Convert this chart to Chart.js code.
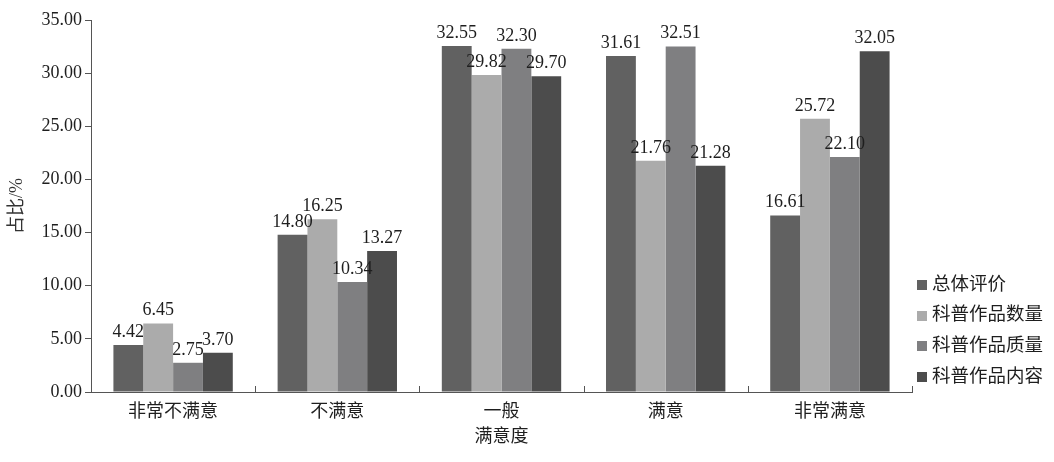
<!DOCTYPE html>
<html>
<head>
<meta charset="utf-8">
<script src="https://cdn.jsdelivr.net/npm/chart.js@4.4.0/dist/chart.umd.min.js"></script>
<style>
  html, body { margin: 0; padding: 0; background: #ffffff; }
  #wrap { width: 1054px; height: 462px; }
</style>
</head>
<body>
<div id="wrap"><canvas id="satisfaction-chart" width="1054" height="462"></canvas></div>
<script>
// Categories and series
const categories = ['非常不满意', '不满意', '一般', '满意', '非常满意'];
const seriesNames = ['总体评价', '科普作品数量', '科普作品质量', '科普作品内容'];
const overallValues = [4.42, 14.80, 32.55, 31.61, 16.61];
const quantityValues = [6.45, 16.25, 29.82, 21.76, 25.72];
const qualityValues = [2.75, 10.34, 32.30, 32.51, 22.10];
const contentValues = [3.70, 13.27, 29.70, 21.28, 32.05];

const seriesColors = ['#616161', '#ababab', '#7f7f81', '#4c4c4c'];
const textColor = '#1e1e1e';
const axisColor = '#555555';
const fontFamily = '"Liberation Serif", "Noto Sans CJK SC", serif';

// Draws the value above every bar
const barValueLabels = {
    id: 'barValueLabels',
    afterDatasetsDraw(chart) {
        const ctx = chart.ctx;
        ctx.save();
        ctx.font = '18px ' + fontFamily;
        ctx.fillStyle = textColor;
        ctx.textAlign = 'center';
        ctx.textBaseline = 'alphabetic';
        chart.data.datasets.forEach((ds, i) => {
            const meta = chart.getDatasetMeta(i);
            meta.data.forEach((bar, j) => {
                ctx.fillText(ds.data[j].toFixed(2), bar.x, bar.y - 8);
            });
        });
        ctx.restore();
    }
};

// Small upward tick marks between the categories on the x axis
const categoryTicks = {
    id: 'categoryTicks',
    afterDraw(chart) {
        const ctx = chart.ctx;
        const xScale = chart.scales.x;
        const bottom = chart.chartArea.bottom;
        const edges = [chart.chartArea.left];
        for (let i = 0; i < categories.length - 1; i++) {
            edges.push((xScale.getPixelForValue(i) + xScale.getPixelForValue(i + 1)) / 2);
        }
        edges.push(chart.chartArea.right);
        ctx.save();
        ctx.strokeStyle = axisColor;
        ctx.lineWidth = 1;
        edges.forEach(x => {
            const px = Math.round(x) + 0.5;
            ctx.beginPath();
            ctx.moveTo(px, bottom);
            ctx.lineTo(px, bottom - 6);
            ctx.stroke();
        });
        ctx.restore();
    }
};

// Legend to the right of the plot, square swatch close to the text
const sideLegend = {
    id: 'sideLegend',
    afterDraw(chart) {
        const ctx = chart.ctx;
        const area = chart.chartArea;
        const x = area.right + 5;
        const rowGap = 30.7;
        const firstY = area.bottom - 15 - rowGap * (chart.data.datasets.length - 1);
        ctx.save();
        ctx.font = '18.5px ' + fontFamily;
        ctx.textBaseline = 'middle';
        ctx.textAlign = 'left';
        chart.data.datasets.forEach((ds, i) => {
            const y = firstY + rowGap * i;
            ctx.fillStyle = ds.backgroundColor;
            ctx.fillRect(x, Math.round(y - 5), 10, 10);
            ctx.fillStyle = textColor;
            ctx.fillText(ds.label, x + 15, y);
        });
        ctx.restore();
    }
};

const allSeries = [overallValues, quantityValues, qualityValues, contentValues];

const ctx = document.getElementById('satisfaction-chart').getContext('2d');
new Chart(ctx, {
    type: 'bar',
    data: {
        labels: categories,
        datasets: allSeries.map((values, i) => ({
            label: seriesNames[i],
            data: values,
            backgroundColor: seriesColors[i],
            borderWidth: 0,
            categoryPercentage: 0.727,
            barPercentage: 1.0
        }))
    },
    options: {
        responsive: false,
        animation: false,
        devicePixelRatio: 1,
        layout: {
            padding: { top: 20, left: 0, right: 142, bottom: 0 }
        },
        scales: {
            y: {
                min: 0,
                max: 35,
                ticks: {
                    stepSize: 5,
                    color: textColor,
                    padding: 3,
                    font: { family: fontFamily, size: 18 },
                    callback: function(value) {
                        return value.toFixed(2);
                    }
                },
                grid: {
                    drawOnChartArea: false,
                    drawTicks: true,
                    tickLength: 6,
                    color: axisColor
                },
                border: { color: axisColor, width: 1 },
                title: {
                    display: true,
                    text: '占比/%',
                    color: '#333333',
                    padding: { top: 6, bottom: 4 },
                    font: { family: fontFamily, size: 18 }
                },
                afterFit: function(scale) {
                    scale.width = 91;
                }
            },
            x: {
                ticks: {
                    color: textColor,
                    padding: 9,
                    font: { family: fontFamily, size: 18 }
                },
                grid: {
                    offset: true,
                    drawOnChartArea: false,
                    drawTicks: false,
                    color: axisColor
                },
                border: { color: axisColor, width: 1 },
                title: {
                    display: true,
                    text: '满意度',
                    color: textColor,
                    padding: { top: 0, bottom: 14 },
                    font: { family: fontFamily, size: 18 }
                },
                afterFit: function(scale) {
                    scale.height = 70;
                }
            }
        },
        plugins: {
            legend: { display: false },
            tooltip: { enabled: false }
        }
    },
    plugins: [barValueLabels, categoryTicks, sideLegend]
});
</script>
</body>
</html>
